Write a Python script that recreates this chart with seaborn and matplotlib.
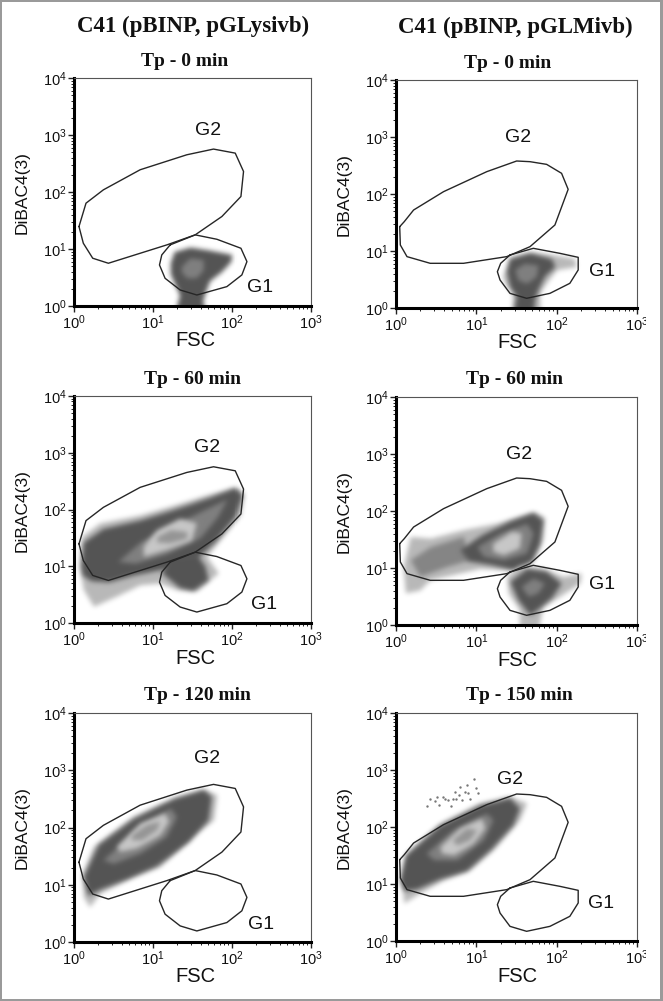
import matplotlib
matplotlib.use("Agg")
import matplotlib.pyplot as plt
from matplotlib.patches import Rectangle
from matplotlib.path import Path
from matplotlib.colors import LinearSegmentedColormap
import numpy as np
import pandas as pd
import seaborn as sns

# ---- values in log10 decades ----
FSC_LIMITS = (1, 1000)
DIBAC_LIMITS = (1, 10000)

left_g2_x = [.063, .152, .372, .837, 1.428, 1.766, 2.041, 2.146, 2.113, 1.872, 1.534, 1.175, .435, .237, .118, .063]
left_g2_y = [1.394, 1.804, 2.038, 2.390, 2.653, 2.753, 2.682, 2.360, 1.921, 1.570, 1.248, 1.072, .750, .838, 1.101, 1.394]
left_g1_x = [1.217, 1.534, 1.808, 2.113, 2.189, 2.125, 1.935, 1.555, 1.344, 1.153, 1.082, 1.111, 1.217]
left_g1_y = [1.072, 1.248, 1.171, 1.013, .779, .545, .340, .193, .281, .486, .720, .896, 1.072]
right_g2_x = [.046, .054, .137, .426, .840, 1.378, 1.668, 1.978, 2.143, 2.061, 1.875, 1.668, 1.502, 1.130, .592, .219, .103, .046]
right_g2_y = [1.427, 1.105, .901, .784, .784, .901, 1.076, 1.456, 2.082, 2.363, 2.520, 2.567, 2.579, 2.392, 2.041, 1.719, 1.515, 1.427]
right_g1_x = [1.419, 1.709, 2.040, 2.268, 2.268, 2.164, 1.916, 1.626, 1.419, 1.295, 1.262, 1.303, 1.419]
right_g1_y = [.930, 1.047, .959, .889, .667, .433, .257, .170, .257, .491, .637, .784, .930]

# population outlines per panel
a_body_x = [1.22, 1.27, 1.47, 1.70, 2.00, 1.99, 1.87, 1.72, 1.66, 1.63, 1.68, 1.28, 1.34, 1.28, 1.22]
a_body_y = [.75, .95, 1.03, .98, .90, .78, .60, .44, .22, .08, -.1, -.1, .19, .37, .57]
a_mid_x = [1.36, 1.47, 1.64, 1.64, 1.55, 1.43, 1.36]
a_mid_y = [.69, .84, .81, .63, .49, .49, .60]

b_fringe_x = [1.33, 1.42, 1.67, 2.0, 2.22, 2.25, 2.0, 1.87, 1.79, 1.80, 1.44, 1.46, 1.36]
b_fringe_y = [.55, .89, .98, .92, .87, .725, .667, .43, .26, -.1, -.1, .26, .43]
b_body_x = [1.38, 1.42, 1.67, 1.94, 1.98, 1.85, 1.77, 1.73, 1.71, 1.46, 1.50, 1.42]
b_body_y = [.64, .86, .96, .86, .725, .55, .32, .17, -.1, -.1, .20, .37]
b_mid_x = [1.48, 1.60, 1.77, 1.75, 1.63, 1.52]
b_mid_y = [.67, .78, .75, .55, .43, .49]

c_fringe_x = [.07, .10, .33, .84, 1.26, 1.68, 2.04, 2.15, 2.11, 1.85, 1.68, 1.83, 1.70, 1.55, 1.30, 1.09, .84, .54, .25, .12]
c_fringe_y = [1.0, 1.52, 1.76, 1.90, 2.07, 2.25, 2.39, 2.28, 1.90, 1.46, 1.17, .88, .73, .56, .586, .70, .67, .47, .29, .59]
c_body_x = [.09, .12, .37, .84, 1.30, 1.72, 2.04, 2.13, 2.04, 1.79, 1.55, 1.17, .75, .44, .22, .11]
c_body_y = [1.0, 1.42, 1.66, 1.81, 2.01, 2.21, 2.38, 2.25, 1.87, 1.44, 1.13, .96, .84, .72, .74, .84]
c_low_x = [1.20, 1.55, 1.66, 1.70, 1.51, 1.34, 1.11]
c_low_y = [1.13, 1.22, 1.0, .76, .57, .62, .88]
c_mid_x = [.56, .84, 1.26, 1.68, 1.94, 1.82, 1.60, 1.17, .78]
c_mid_y = [1.08, 1.42, 1.72, 2.01, 2.18, 1.87, 1.50, 1.22, 1.05]
c_light_x = [.88, 1.05, 1.34, 1.55, 1.49, 1.17, .88]
c_light_y = [1.35, 1.64, 1.84, 1.76, 1.46, 1.29, 1.17]
c_core_x = [1.05, 1.22, 1.43, 1.43, 1.22, 1.05]
c_core_y = [1.52, 1.64, 1.61, 1.49, 1.41, 1.42]

d_fringe_x = [.09, .18, .43, .84, 1.25, 1.71, 1.85, 1.83, 1.71, 1.50, 1.05, .43, .30, .12]
d_fringe_y = [1.02, 1.55, 1.52, 1.67, 1.78, 1.98, 1.89, 1.49, 1.14, .96, .99, .79, .61, .56]
d_left_x = [.18, .43, .84, .92, .63, .30]
d_left_y = [1.14, 1.37, 1.55, 1.14, 1.02, .85]
d_body_x = [.80, 1.07, 1.42, 1.71, 1.83, 1.79, 1.69, 1.46, 1.17, .90]
d_body_y = [1.32, 1.58, 1.82, 1.97, 1.84, 1.43, 1.12, .97, 1.06, 1.12]
d_mid_x = [1.01, 1.30, 1.63, 1.71, 1.63, 1.34, 1.09]
d_mid_y = [1.37, 1.61, 1.78, 1.61, 1.26, 1.14, 1.20]
d_light_x = [1.21, 1.44, 1.56, 1.54, 1.34, 1.21]
d_light_y = [1.43, 1.64, 1.61, 1.35, 1.23, 1.29]
d_lowf_x = [1.38, 1.54, 1.83, 2.08, 2.31, 2.29, 2.04, 1.83, 1.77, 1.54, 1.54, 1.40]
d_lowf_y = [.85, 1.02, .99, .85, .91, .73, .50, .32, -.1, -.1, .26, .56]
d_low_x = [1.42, 1.63, 1.87, 2.06, 1.94, 1.79, 1.67, 1.52]
d_low_y = [.76, .99, .94, .73, .48, .30, .17, .44]
d_lowm_x = [1.56, 1.71, 1.85, 1.77, 1.65]
d_lowm_y = [.67, .82, .73, .56, .50]

e_fringe_x = [.11, .25, .75, 1.26, 1.64, 1.81, 1.77, 1.55, 1.09, .75, .33, .20, .12]
e_fringe_y = [1.20, 1.67, 2.19, 2.51, 2.66, 2.57, 2.13, 1.90, 1.32, 1.14, .85, .61, .79]
e_body_x = [.12, .31, .75, 1.26, 1.64, 1.74, 1.70, 1.45, 1.05, .67, .33, .18]
e_body_y = [1.14, 1.70, 2.15, 2.50, 2.66, 2.54, 2.13, 1.75, 1.33, 1.10, .92, .81]
e_mid_x = [.37, .75, 1.22, 1.30, 1.17, .84, .50]
e_mid_y = [1.43, 1.90, 2.34, 2.19, 1.84, 1.55, 1.37]
e_light_x = [.54, .84, 1.15, 1.20, 1.09, .79, .58]
e_light_y = [1.67, 2.08, 2.25, 2.11, 1.87, 1.64, 1.58]
e_core_x = [.73, .92, 1.09, 1.05, .86, .73]
e_core_y = [1.87, 2.05, 2.11, 1.96, 1.78, 1.78]

f_fringe_x = [.07, .14, .55, 1.05, 1.42, 1.63, 1.54, 1.21, .92, .59, .30, .10]
f_fringe_y = [1.07, 1.54, 2.06, 2.42, 2.53, 2.42, 2.12, 1.60, 1.25, 1.07, .84, .66]
f_body_x = [.05, .12, .55, 1.05, 1.42, 1.54, 1.46, 1.19, .88, .55, .26, .10]
f_body_y = [1.07, 1.50, 2.03, 2.38, 2.51, 2.33, 2.04, 1.62, 1.23, 1.09, .91, .88]
f_mid_x = [.38, .72, 1.13, 1.21, 1.09, .76, .47]
f_mid_y = [1.54, 1.95, 2.24, 2.12, 1.77, 1.42, 1.42]
f_light_x = [.55, .80, 1.07, 1.11, .96, .72, .57]
f_light_y = [1.65, 1.98, 2.15, 1.98, 1.71, 1.51, 1.54]
f_core_x = [.70, .88, 1.01, .92, .76]
f_core_y = [1.77, 1.98, 1.95, 1.77, 1.68]
f_stray_x = [.38, .42, .49, .51, .59, .61, .54, .71, .75, .78, .80, .88, .86, .90, .97, 1.0, 1.02, .69, .65, .82, .92, .73]
f_stray_y = [2.36, 2.50, 2.46, 2.53, 2.53, 2.50, 2.39, 2.50, 2.50, 2.56, 2.71, 2.73, 2.62, 2.59, 2.85, 2.68, 2.59, 2.36, 2.47, 2.47, 2.50, 2.62]

titles = ["C41 (pBINP, pGLysivb)", "C41 (pBINP, pGLMivb)"]
subtitles = ["Tp - 0 min", "Tp - 0 min", "Tp - 60 min", "Tp - 60 min", "Tp - 120 min", "Tp - 150 min"]
g2_label_x = [1.70, 1.52, 1.69, 1.53, 1.69, 1.42]
g2_label_y = [3.08, 3.00, 3.09, 2.99, 3.20, 2.84]
g1_label_x = [2.36, 2.56, 2.40, 2.56, 2.37, 2.55]
g1_label_y = [.33, .64, .32, .71, .30, .65]

SHADES = dict(fringe=.72, sparse=.52, body=.33, mid=.50, light=.78, core=.58)
W, H = 663, 1001

panel_boxes = [(74, 78, 311, 306), (396, 80, 637, 308), (74, 396, 311, 623),
               (396, 397, 637, 625), (74, 713, 311, 942), (396, 713, 637, 941)]
subtitle_pos = [(185, 62), (508, 63), (192, 380), (514, 380), (197, 695), (519, 695)]

layers = [
    [("body", a_body_x, a_body_y), ("mid", a_mid_x, a_mid_y)],
    [("fringe", b_fringe_x, b_fringe_y), ("body", b_body_x, b_body_y), ("mid", b_mid_x, b_mid_y)],
    [("fringe", c_fringe_x, c_fringe_y), ("body", c_body_x, c_body_y), ("body", c_low_x, c_low_y),
     ("mid", c_mid_x, c_mid_y), ("light", c_light_x, c_light_y), ("core", c_core_x, c_core_y)],
    [("fringe", d_fringe_x, d_fringe_y), ("sparse", d_left_x, d_left_y), ("body", d_body_x, d_body_y),
     ("mid", d_mid_x, d_mid_y), ("light", d_light_x, d_light_y), ("fringe", d_lowf_x, d_lowf_y),
     ("body", d_low_x, d_low_y), ("mid", d_lowm_x, d_lowm_y)],
    [("fringe", e_fringe_x, e_fringe_y), ("body", e_body_x, e_body_y), ("mid", e_mid_x, e_mid_y),
     ("light", e_light_x, e_light_y), ("core", e_core_x, e_core_y)],
    [("fringe", f_fringe_x, f_fringe_y), ("body", f_body_x, f_body_y), ("mid", f_mid_x, f_mid_y),
     ("light", f_light_x, f_light_y), ("core", f_core_x, f_core_y)],
]

sns.set_style("white")
plt.rcParams["font.family"] = ["Liberation Sans", "DejaVu Sans"]
plt.rcParams["mathtext.default"] = "regular"
plt.rcParams["mathtext.fontset"] = "custom"
plt.rcParams["mathtext.rm"] = "Liberation Sans"

fig = plt.figure(figsize=(W / 100, H / 100), dpi=100, facecolor="white")
greys = LinearSegmentedColormap.from_list("cyto", ["black", "white"])


def decades(values):
    return np.power(10.0, np.asarray(values, dtype=float))


def gate(ax, xs, ys):
    frame = pd.DataFrame({"FSC": decades(xs), "DiBAC": decades(ys)})
    sns.lineplot(data=frame, x="FSC", y="DiBAC", sort=False, estimator=None,
                 color="#262626", lw=1.0, ax=ax, legend=False, zorder=5)


def soften(img, sigma):
    radius = int(3 * sigma) + 1
    kernel = np.exp(-0.5 * (np.arange(-radius, radius + 1) / sigma) ** 2)
    kernel /= kernel.sum()
    for axis in (0, 1):
        pad = [(0, 0), (0, 0)]
        pad[axis] = (radius, radius)
        img = np.apply_along_axis(lambda r: np.convolve(r, kernel, mode="valid"), axis,
                                  np.pad(img, pad, mode="edge"))
    return img


def cloud(ax, panel_layers, box):
    x0, y0, x1, y1 = box
    nx, ny = (x1 - x0) * 2, (y1 - y0) * 2
    xe = np.linspace(0, 3, nx + 1)
    ye = np.linspace(0, 4, ny + 1)
    xc, yc = (xe[:-1] + xe[1:]) / 2, (ye[:-1] + ye[1:]) / 2
    gx, gy = np.meshgrid(xc, yc)
    pts = np.column_stack([gx.ravel(), gy.ravel()])
    img = np.ones_like(gx)
    for shade, xs, ys in panel_layers:
        mask = Path(np.column_stack([xs, ys])).contains_points(pts).reshape(gx.shape)
        # soft mask so the polygon corners round off and the tones melt together
        m = soften(mask.astype(float), 5.0)
        img = img * (1 - m) + SHADES[shade] * m
    ax.pcolormesh(decades(xe), decades(ye), img, cmap=greys, vmin=0, vmax=1,
                  shading="flat", zorder=2, rasterized=True)


for i, box in enumerate(panel_boxes):
    x0, y0, x1, y1 = box
    ax = fig.add_axes([x0 / W, 1 - y1 / H, (x1 - x0) / W, (y1 - y0) / H])
    ax.set_xscale("log")
    ax.set_yscale("log")
    cloud(ax, layers[i], box)
    if i == 5:
        sns.scatterplot(x=decades(f_stray_x), y=decades(f_stray_y), s=3, color="#777777",
                        linewidth=0, ax=ax, legend=False, zorder=3)
    if i % 2 == 0:
        gate(ax, left_g2_x, left_g2_y)
        gate(ax, left_g1_x, left_g1_y)
    else:
        gate(ax, right_g2_x, right_g2_y)
        gate(ax, right_g1_x, right_g1_y)
    ax.set_xlim(*FSC_LIMITS)
    ax.set_ylim(*DIBAC_LIMITS)
    ax.text(10 ** g2_label_x[i], 10 ** g2_label_y[i], "G2", fontsize=14, ha="center", va="center", color="#111111")
    ax.text(10 ** g1_label_x[i], 10 ** g1_label_y[i], "G1", fontsize=14, ha="center", va="center", color="#111111")
    for side in ("left", "bottom"):
        ax.spines[side].set_linewidth(2.2)
        ax.spines[side].set_color("black")
    for side in ("top", "right"):
        ax.spines[side].set_linewidth(0.8)
        ax.spines[side].set_color("#555555")
    for axis in (ax.xaxis, ax.yaxis):
        axis.set_minor_locator(matplotlib.ticker.LogLocator(base=10, subs=np.arange(2, 10), numticks=12))
        axis.set_minor_formatter(matplotlib.ticker.NullFormatter())
    ax.set_xticks([1, 10, 100, 1000])
    ax.set_yticks([1, 10, 100, 1000, 10000])
    ax.tick_params(which="major", length=4, width=1, color="#222222", labelsize=10.5, pad=1.5,
                   labelcolor="#111111", bottom=True, left=True)
    ax.tick_params(which="minor", length=2, width=0.7, color="#222222", bottom=True, left=True)
    ax.set_xlabel("")
    ax.set_ylabel("")
    cx = x0 + 121
    fig.text(cx / W, 1 - (y1 + 35) / H, "FSC", fontsize=14.5, ha="center", va="center", color="#111111")
    fig.text((x0 - 52) / W, 1 - (y0 + 115) / H, "DiBAC4(3)", fontsize=12.5, rotation=90,
             ha="center", va="center", color="#111111")
    sx, sy = subtitle_pos[i]
    fig.text(sx / W, 1 - sy / H, subtitles[i], fontsize=14, fontweight="bold", family="Liberation Serif",
             ha="center", va="center", color="#111111")

fig.text(193 / W, 1 - 26 / H, titles[0], fontsize=16.5, fontweight="bold", family="Liberation Serif",
         ha="center", va="center", color="#111111")
fig.text(515 / W, 1 - 27 / H, titles[1], fontsize=16.5, fontweight="bold", family="Liberation Serif",
         ha="center", va="center", color="#111111")

# picture edge: cropped label area and grey frame
fig.add_artist(Rectangle((646 / W, 0), 14 / W, 1, transform=fig.transFigure, facecolor="white", edgecolor="none", zorder=20))
for px, py, pw, ph in [(0, 0, 2, H), (660, 0, 3, H), (0, 0, W, 2), (0, H - 2, W, 2)]:
    fig.add_artist(Rectangle((px / W, 1 - (py + ph) / H), pw / W, ph / H, transform=fig.transFigure,
                             facecolor="#9a9a9a", edgecolor="none", zorder=21))

fig.savefig("out.png", dpi=100)
